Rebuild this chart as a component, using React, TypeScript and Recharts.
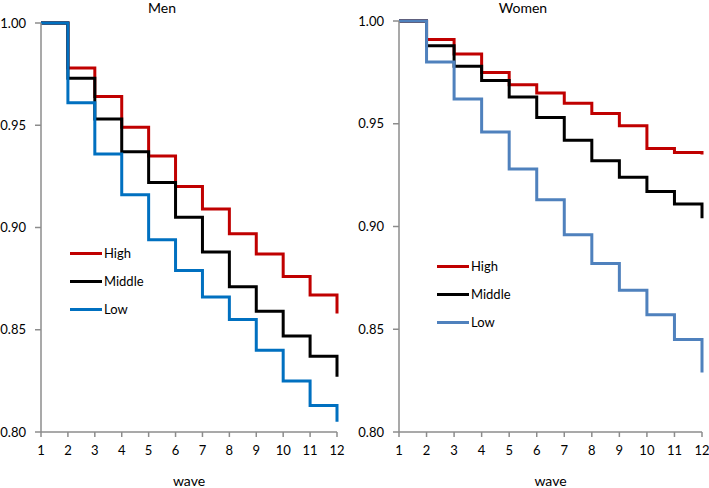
import { Label, Legend, Line, LineChart, XAxis, YAxis } from "recharts";

const waves = [1, 2, 3, 4, 5, 6, 7, 8, 9, 10, 11, 12];
const yTicks = [0.8, 0.85, 0.9, 0.95, 1.0];
const groups = ["High", "Middle", "Low"];

const menHigh = [1.0, 0.978, 0.964, 0.949, 0.935, 0.92, 0.909, 0.897, 0.887, 0.876, 0.867, 0.858];
const menMiddle = [1.0, 0.973, 0.953, 0.937, 0.922, 0.905, 0.888, 0.871, 0.859, 0.847, 0.837, 0.827];
const menLow = [1.0, 0.961, 0.936, 0.916, 0.894, 0.879, 0.866, 0.855, 0.84, 0.825, 0.813, 0.805];

const womenHigh = [1.0, 0.991, 0.984, 0.975, 0.969, 0.965, 0.96, 0.955, 0.949, 0.938, 0.936, 0.935];
const womenMiddle = [1.0, 0.988, 0.978, 0.971, 0.963, 0.953, 0.942, 0.932, 0.924, 0.917, 0.911, 0.904];
const womenLow = [1.0, 0.98, 0.962, 0.946, 0.928, 0.913, 0.896, 0.882, 0.869, 0.857, 0.845, 0.829];

const font = "Lato, 'Open Sans', sans-serif";
const axisGrey = "#8c8c8c";

const buildRows = (high: number[], middle: number[], low: number[]) =>
  waves.map((wave, i) => ({ wave, High: high[i], Middle: middle[i], Low: low[i] }));

const LegendBox = (props: any) => {
  const items = [...(props.payload || [])].sort(
    (a: any, b: any) => groups.indexOf(a.value) - groups.indexOf(b.value)
  );
  return (
    <div style={{ fontFamily: font, fontSize: 13, color: "#000" }}>
      {items.map((item: any) => (
        <div
          key={item.value}
          style={{ display: "flex", alignItems: "center", height: 28 }}
        >
          <span
            style={{
              display: "inline-block",
              width: 32,
              height: 3,
              background: item.color,
              marginRight: 2,
            }}
          />
          <span>{item.value}</span>
        </div>
      ))}
    </div>
  );
};

type PanelProps = {
  title: string;
  titleX: number;
  rows: any[];
  lowColor: string;
  top: number;
  width: number;
  right: number;
  legendLeft: number;
  legendTop: number;
};

const Panel = ({ title, titleX, rows, lowColor, top, width, right, legendLeft, legendTop }: PanelProps) => {
  return (
    <div style={{ position: "relative", width, height: 488 }}>
      <div
        style={{
          position: "absolute",
          left: titleX - 50,
          width: 100,
          top: 0,
          lineHeight: "15px",
          textAlign: "center",
          fontFamily: font,
          fontSize: 14,
          color: "#000",
        }}
      >
        {title}
      </div>
      <LineChart
        width={width}
        height={488}
        data={rows}
        margin={{ top, right, bottom: 0, left: 0 }}
      >
        <XAxis
          dataKey="wave"
          type="number"
          domain={[1, 12]}
          ticks={waves}
          interval={0}
          height={56}
          tickSize={5}
          tickMargin={9}
          axisLine={{ stroke: axisGrey, strokeWidth: 1.5 }}
          tickLine={{ stroke: axisGrey, strokeWidth: 1.5 }}
          tick={{ fill: "#000", fontSize: 13, fontFamily: font }}
        >
          <Label
            value="wave"
            position="insideBottom"
            offset={2}
            style={{ fill: "#000", fontSize: 14, fontFamily: font }}
          />
        </XAxis>
        <YAxis
          type="number"
          domain={[0.8, 1.0]}
          ticks={yTicks}
          width={41}
          tickSize={6}
          tickMargin={9}
          tickFormatter={(v: number) => v.toFixed(2)}
          axisLine={{ stroke: axisGrey, strokeWidth: 1.5 }}
          tickLine={{ stroke: axisGrey, strokeWidth: 1.5 }}
          tick={{ fill: "#000", fontSize: 13, fontFamily: font }}
        />
        <Legend
          layout="horizontal"
          verticalAlign="middle"
          content={<LegendBox />}
          wrapperStyle={{ left: legendLeft, top: legendTop, width: 100 }}
        />
        <Line
          type="stepAfter"
          dataKey="High"
          stroke="#c00000"
          strokeWidth={3}
          dot={false}
          isAnimationActive={false}
        />
        <Line
          type="stepAfter"
          dataKey="Middle"
          stroke="#000000"
          strokeWidth={3}
          dot={false}
          isAnimationActive={false}
        />
        <Line
          type="stepAfter"
          dataKey="Low"
          stroke={lowColor}
          strokeWidth={3}
          dot={false}
          isAnimationActive={false}
        />
      </LineChart>
    </div>
  );
};

const App = () => {
  return (
    <div
      style={{
        position: "absolute",
        left: 0,
        top: 0,
        width: 709,
        height: 488,
        background: "#fff",
        display: "flex",
      }}
    >
      <Panel
        title="Men"
        titleX={162}
        rows={buildRows(menHigh, menMiddle, menLow)}
        lowColor="#0070c0"
        top={23}
        width={355}
        right={18}
        legendLeft={70}
        legendTop={239}
      />
      <div style={{ width: 3 }} />
      <Panel
        title="Women"
        titleX={165}
        rows={buildRows(womenHigh, womenMiddle, womenLow)}
        lowColor="#4f81bd"
        top={21}
        width={351}
        right={7}
        legendLeft={79}
        legendTop={252}
      />
    </div>
  );
};

export default App;
